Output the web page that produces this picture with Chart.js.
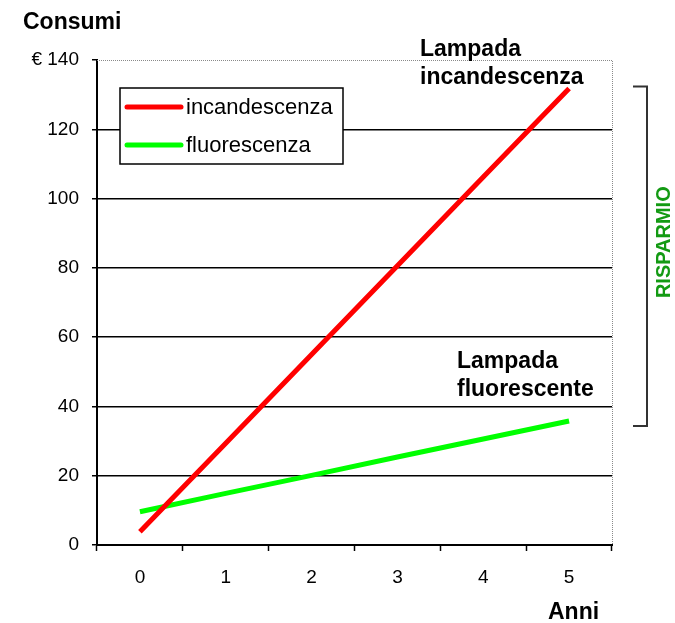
<!DOCTYPE html>
<html>
<head>
<meta charset="utf-8">
<script src="https://cdn.jsdelivr.net/npm/chart.js@4"></script>
<style>
  body { margin: 0; background: #fff; }
</style>
</head>
<body>
<canvas id="grafico" width="675" height="623"></canvas>
<script>
// dati
const anni = ['0', '1', '2', '3', '4', '5'];
const incandescenza = [3.8, 29.4, 55, 80.6, 106.2, 131.8];
const fluorescenza = [9.6, 14.9, 20.1, 25.4, 30.6, 35.8];
const yTicks = [0, 20, 40, 60, 80, 100, 120, 140];
const yTickLabels = ['0', '20', '40', '60', '80', '100', '120', '€ 140'];

const FONT = '"Liberation Sans", Arial, sans-serif';

// disegna testi, legenda, bordo tratteggiato e parentesi "RISPARMIO"
const decorazioni = {
  id: 'decorazioni',
  beforeDatasetsDraw(chart) {
    const { ctx, chartArea: a } = chart;
    ctx.save();
    ctx.strokeStyle = '#8a8a8a';
    ctx.lineWidth = 1;
    ctx.setLineDash([1, 1]);
    ctx.beginPath();
    ctx.moveTo(a.left, a.top + 0.5);
    ctx.lineTo(a.right + 0.5, a.top + 0.5);
    ctx.lineTo(a.right + 0.5, a.bottom);
    ctx.stroke();
    ctx.restore();
  },
  afterDatasetsDraw(chart) {
    const { ctx } = chart;
    const y = chart.scales.y;
    ctx.save();

    // legenda
    ctx.fillStyle = '#fff';
    ctx.fillRect(120, 88, 223, 76);
    ctx.strokeStyle = '#000';
    ctx.lineWidth = 1.5;
    ctx.strokeRect(120, 88, 223, 76);
    chart.data.datasets.forEach((ds, i) => {
      const ly = 107 + i * 38;
      ctx.strokeStyle = ds.borderColor;
      ctx.lineWidth = 5;
      ctx.lineCap = 'round';
      ctx.beginPath();
      ctx.moveTo(127, ly);
      ctx.lineTo(181, ly);
      ctx.stroke();
      ctx.fillStyle = '#000';
      ctx.font = '22px ' + FONT;
      ctx.textBaseline = 'middle';
      ctx.fillText(ds.label, 186, ly + 1);
    });

    // titoli
    ctx.fillStyle = '#000';
    ctx.textBaseline = 'alphabetic';
    ctx.font = 'bold 23px ' + FONT;
    ctx.fillText('Consumi', 23, 29);
    ctx.fillText('Anni', 548, 619);
    ctx.fillText('Lampada', 420, 56);
    ctx.fillText('incandescenza', 420, 84);
    ctx.fillText('Lampada', 457, 368);
    ctx.fillText('fluorescente', 457, 396);

    // parentesi del risparmio
    const yTop = y.getPixelForValue(incandescenza[incandescenza.length - 1]) - 2;
    const yBot = y.getPixelForValue(fluorescenza[fluorescenza.length - 1]) + 5;
    ctx.strokeStyle = '#333';
    ctx.lineWidth = 2;
    ctx.lineCap = 'butt';
    ctx.beginPath();
    ctx.moveTo(633, yTop);
    ctx.lineTo(647, yTop);
    ctx.lineTo(647, yBot);
    ctx.lineTo(633, yBot);
    ctx.stroke();

    ctx.translate(664, (yTop + yBot) / 2 - 14);
    ctx.rotate(-Math.PI / 2);
    ctx.fillStyle = '#139a13';
    ctx.font = 'bold 20px ' + FONT;
    ctx.textAlign = 'center';
    ctx.textBaseline = 'middle';
    ctx.fillText('RISPARMIO', 0, 0);
    ctx.restore();
  }
};

new Chart(document.getElementById('grafico'), {
  type: 'line',
  data: {
    labels: anni,
    datasets: [
      { label: 'incandescenza', data: incandescenza, borderColor: '#ff0000', borderWidth: 5, pointRadius: 0, tension: 0 },
      { label: 'fluorescenza', data: fluorescenza, borderColor: '#00ff00', borderWidth: 5, pointRadius: 0, tension: 0 }
    ]
  },
  options: {
    responsive: false,
    animation: false,
    devicePixelRatio: 1,
    layout: { padding: { top: 60, right: 63, left: 0, bottom: 0 } },
    plugins: { legend: { display: false }, tooltip: { enabled: false } },
    scales: {
      x: {
        offset: true,
        grid: { offset: true, drawOnChartArea: false, drawTicks: true, tickLength: 6, tickColor: '#000', tickWidth: 1.5 },
        border: { display: true, color: '#000', width: 2 },
        ticks: { color: '#000', font: { family: FONT, size: 19 }, padding: 15 },
        afterFit(s) { s.height = 78; }
      },
      y: {
        min: 0,
        max: 140,
        afterBuildTicks(s) { s.ticks = yTicks.map(v => ({ value: v })); },
        grid: {
          color: c => (c.tick && c.tick.value === 140 ? 'rgba(0,0,0,0)' : '#000'),
          lineWidth: 1.5,
          tickLength: 5,
          tickColor: '#000',
          tickWidth: 1.5
        },
        border: { display: true, color: '#000', width: 2 },
        ticks: {
          color: '#000',
          font: { family: FONT, size: 19 },
          padding: 13,
          callback: v => yTickLabels[yTicks.indexOf(v)]
        },
        afterFit(s) { s.width = 97; }
      }
    }
  },
  plugins: [decorazioni]
});
</script>
</body>
</html>
